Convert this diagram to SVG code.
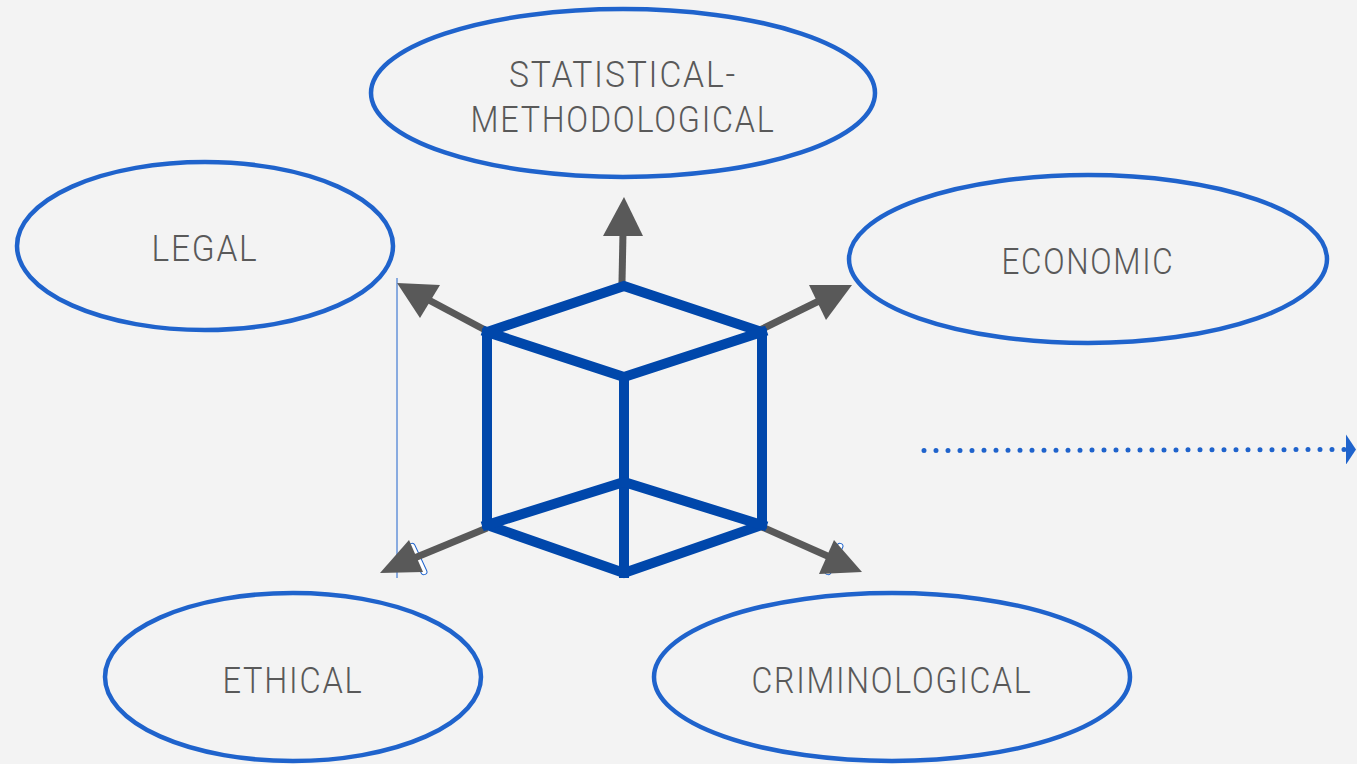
<svg xmlns="http://www.w3.org/2000/svg" width="1357" height="764" viewBox="0 0 1357 764">
  <style>
    .oval { fill: #F3F3F3; stroke: #1F63CC; stroke-width: 4.5; }
    .label { font-family: Roboto, "Liberation Sans", sans-serif; font-weight: 300; font-size: 37px; fill: #595959; text-anchor: middle; letter-spacing: 2px; }
    .edge { fill: none; stroke: #0047AB; stroke-width: 10; stroke-linejoin: miter; stroke-linecap: square; }
    .axis { stroke: #595959; stroke-width: 7; fill: none; }
    .head { fill: #595959; }
    .tab { fill: #FFFFFF; stroke: #1F63CC; stroke-width: 1; }
  </style>
  <defs>
    <marker id="dotHead" viewBox="0 0 10 30" refX="0" refY="15" markerWidth="10" markerHeight="30" markerUnits="userSpaceOnUse" orient="auto">
      <path d="M0,0 L10,15 L0,30 Z" fill="#1F63CC"/>
    </marker>
  </defs>
  <rect width="1357" height="764" fill="#F3F3F3"/>

  <g id="statistical-methodological">
    <ellipse class="oval" cx="623" cy="93" rx="252" ry="84"/>
    <text class="label" x="623" y="87" textLength="228" lengthAdjust="spacingAndGlyphs">STATISTICAL-</text>
    <text class="label" x="623" y="132" textLength="305" lengthAdjust="spacingAndGlyphs">METHODOLOGICAL</text>
  </g>
  <g id="legal">
    <ellipse class="oval" cx="205" cy="246" rx="188" ry="84"/>
    <text class="label" x="205" y="261" textLength="107" lengthAdjust="spacingAndGlyphs">LEGAL</text>
  </g>
  <g id="economic">
    <ellipse class="oval" cx="1088" cy="259" rx="239" ry="84"/>
    <text class="label" x="1088" y="274" textLength="173" lengthAdjust="spacingAndGlyphs">ECONOMIC</text>
  </g>
  <g id="ethical">
    <ellipse class="oval" cx="293" cy="677" rx="188" ry="84"/>
    <text class="label" x="293" y="693" textLength="141" lengthAdjust="spacingAndGlyphs">ETHICAL</text>
  </g>
  <g id="criminological">
    <ellipse class="oval" cx="892" cy="677" rx="238" ry="84"/>
    <text class="label" x="892" y="693" textLength="281" lengthAdjust="spacingAndGlyphs">CRIMINOLOGICAL</text>
  </g>

  <g id="connectors">
    <!-- guide line on the left -->
    <line x1="397" y1="278" x2="397" y2="578" stroke="#1F63CC" stroke-width="1"/>

    <!-- small handles under the lower arrowheads -->
    <rect class="tab" x="-3" y="-17" width="6" height="34" rx="3" transform="translate(418,559) rotate(-25)"/>
    <rect class="tab" x="-3" y="-17" width="6" height="34" rx="3" transform="translate(834,559) rotate(25)"/>

    <!-- arrows radiating from the cube -->
    <line class="axis" x1="622" y1="283" x2="623" y2="232"/>
    <polygon class="head" points="624,197 643,236 603,236"/>

    <line class="axis" x1="487" y1="331" x2="425" y2="298"/>
    <polygon class="head" points="397,283 440,285 420,318"/>

    <line class="axis" x1="760" y1="330" x2="823" y2="299"/>
    <polygon class="head" points="852,285 809,285 826,320"/>

    <line class="axis" x1="487" y1="528" x2="412" y2="559"/>
    <polygon class="head" points="380,573 409,540 423,572"/>

    <line class="axis" x1="762" y1="527" x2="832" y2="558"/>
    <polygon class="head" points="862,572 819,574 834,540"/>

    <!-- dotted arrow to the right -->
    <line x1="924" y1="450.5" x2="1346" y2="449.5" stroke="#1F63CC" stroke-width="5" stroke-linecap="round" stroke-dasharray="0 12" marker-end="url(#dotHead)"/>
  </g>

  <g id="cube">
    <polygon class="edge" points="624,286 487,332 487,525 624,573 762,525 762,332"/>
    <polyline class="edge" points="487,332 624,377 762,332"/>
    <line class="edge" x1="624" y1="377" x2="624" y2="573"/>
    <polyline class="edge" points="487,525 624,482 762,525"/>
  </g>
</svg>
